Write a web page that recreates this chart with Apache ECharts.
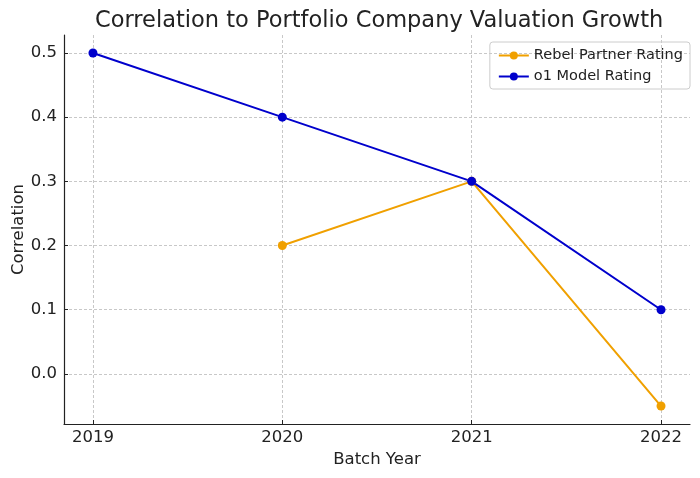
<!DOCTYPE html>
<html>
<head>
    <meta charset="utf-8">
    <script src="https://cdn.jsdelivr.net/npm/echarts@6/dist/echarts.min.js"></script>
    <style>
        html, body { margin: 0; padding: 0; background: #fff; }
        #chart { width: 700px; height: 478px; }
    </style>
</head>
<body>
<div id="chart"></div>
<script>
    const years = [2019, 2020, 2021, 2022]
    const rebelRating = [null, 0.2, 0.3, -0.05]
    const o1Rating = [0.5, 0.4, 0.3, 0.1]
    const yTicks = [0.0, 0.1, 0.2, 0.3, 0.4, 0.5]

    const font = 'DejaVu Sans'
    const chart = echarts.init(document.getElementById('chart'))

    function pairs(values) {
        return years.map((y, i) => [y, values[i]])
    }

    const option = {
        backgroundColor: '#fff',
        animation: false,
        textStyle: { fontFamily: font },
        title: {
            text: 'Correlation to Portfolio Company Valuation Growth',
            left: 90,
            top: 5,
            textStyle: { fontFamily: font, fontSize: 22.5, fontWeight: 'normal', color: '#222' }
        },
        legend: {
            right: 10,
            top: 42,
            orient: 'vertical',
            itemGap: 6,
            itemWidth: 30,
            itemHeight: 10,
            padding: [6, 7, 5, 8],
            borderColor: '#ccc',
            borderWidth: 1,
            borderRadius: 3,
            textStyle: { fontFamily: font, fontSize: 14.5, color: '#222' },
            data: ['Rebel Partner Rating', 'o1 Model Rating']
        },
        grid: { left: 64, right: 10, top: 35, bottom: 54, containLabel: false, outerBoundsMode: 'none' },
        xAxis: {
            type: 'value',
            min: 2018.847,
            max: 2022.153,
            name: 'Batch Year',
            nameLocation: 'middle',
            nameGap: 27,
            nameTextStyle: { fontFamily: font, fontSize: 16.5, color: '#222' },
            axisLine: { show: true, onZero: false, lineStyle: { color: '#222', width: 1.2 } },
            axisTick: { show: true, inside: true, length: 4, customValues: years, lineStyle: { color: '#222' } },
            axisLabel: { customValues: years, fontFamily: font, fontSize: 16.5, color: '#222', margin: 5, formatter: v => String(v) },
            splitLine: { show: true, lineStyle: { color: '#c8c8c8', type: [3, 2], width: 1 } }
        },
        yAxis: {
            type: 'value',
            min: -0.078,
            max: 0.528,
            name: 'Correlation',
            nameLocation: 'middle',
            nameGap: 37,
            nameMoveOverlap: false,
            nameTextStyle: { fontFamily: font, fontSize: 16.5, color: '#222' },
            axisLine: { show: true, onZero: false, lineStyle: { color: '#222', width: 1.2 } },
            axisTick: { show: true, inside: true, length: 4, customValues: yTicks, lineStyle: { color: '#222' } },
            axisLabel: { customValues: yTicks, fontFamily: font, fontSize: 16.5, color: '#222', margin: 7, formatter: v => v.toFixed(1) },
            splitLine: { show: true, lineStyle: { color: '#c8c8c8', type: [3, 2], width: 1 } }
        },
        series: [
            {
                name: 'Rebel Partner Rating',
                type: 'line',
                data: pairs(rebelRating),
                symbol: 'circle',
                symbolSize: 9,
                color: '#f0a000',
                lineStyle: { width: 2, color: '#f0a000' },
                itemStyle: { color: '#f0a000' }
            },
            {
                name: 'o1 Model Rating',
                type: 'line',
                data: pairs(o1Rating),
                symbol: 'circle',
                symbolSize: 9,
                color: '#0000cc',
                lineStyle: { width: 2, color: '#0000cc' },
                itemStyle: { color: '#0000cc' }
            }
        ]
    }
    chart.setOption(option)
</script>
</body>
</html>
